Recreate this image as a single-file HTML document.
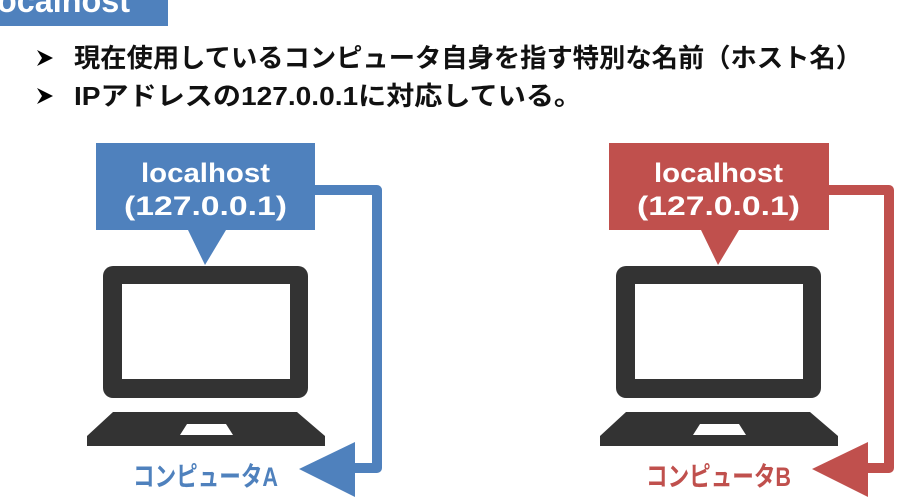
<!DOCTYPE html>
<html><head><meta charset="utf-8"><style>
html,body{margin:0;padding:0;background:#fff;}
svg{display:block;}
text{font-family:"Liberation Sans","Noto Sans CJK JP",sans-serif;font-weight:bold;}
</style></head><body>
<svg width="921" height="504" viewBox="0 0 921 504" xmlns="http://www.w3.org/2000/svg">
<rect x="0" y="0" width="168" height="26" fill="#4f81bd"/>
<text x="-12" y="12" font-size="33" fill="#fff" textLength="142" lengthAdjust="spacingAndGlyphs">localhost</text>

<polygon points="37,50 53,58 37,66 42,58" fill="#000"/>
<text x="74" y="67" font-size="26" fill="#111" textLength="788" lengthAdjust="spacingAndGlyphs">現在使用しているコンピュータ自身を指す特別な名前（ホスト名）</text>
<polygon points="37,88 53,96 37,104 42,96" fill="#000"/>
<text x="74" y="105" font-size="26" fill="#111" textLength="508" lengthAdjust="spacingAndGlyphs">IPアドレスの127.0.0.1に対応している。</text>

<g>
<rect x="96" y="143" width="219" height="87" fill="#4f81bd"/>
<polygon points="188,230 226,230 205,265" fill="#4f81bd"/>
<text x="141" y="182" font-size="27" fill="#fff" textLength="129" lengthAdjust="spacingAndGlyphs">localhost</text>
<text x="124" y="215" font-size="27" fill="#fff" textLength="163" lengthAdjust="spacingAndGlyphs">(127.0.0.1)</text>
<path d="M315 190 H377 V468 H350" fill="none" stroke="#4f81bd" stroke-width="10" stroke-linejoin="round"/>
<polygon points="299,469 355,442 355,497" fill="#4f81bd"/>
<rect x="103" y="266" width="205" height="132" rx="10" fill="#333"/>
<rect x="122" y="284" width="168" height="95" fill="#fff"/>
<path d="M113 412 H297 L325 436 V446 H87 V436 Z" fill="#333"/>
<polygon points="187,424 226,424 233,435 180,435" fill="#fff"/>
<text x="133" y="486" font-size="27" fill="#4f81bd" textLength="145" lengthAdjust="spacingAndGlyphs">コンピュータA</text>
</g>

<g>
<rect x="609" y="143" width="220" height="87" fill="#c0504d"/>
<polygon points="701,230 739,230 718,265" fill="#c0504d"/>
<text x="654" y="182" font-size="27" fill="#fff" textLength="129" lengthAdjust="spacingAndGlyphs">localhost</text>
<text x="637" y="215" font-size="27" fill="#fff" textLength="163" lengthAdjust="spacingAndGlyphs">(127.0.0.1)</text>
<path d="M828 190 H889 V468 H863" fill="none" stroke="#c0504d" stroke-width="10" stroke-linejoin="round"/>
<polygon points="812,469 868,442 868,497" fill="#c0504d"/>
<rect x="616" y="266" width="205" height="132" rx="10" fill="#333"/>
<rect x="635" y="284" width="168" height="95" fill="#fff"/>
<path d="M626 412 H810 L838 436 V446 H600 V436 Z" fill="#333"/>
<polygon points="700,424 739,424 746,435 693,435" fill="#fff"/>
<text x="646" y="486" font-size="27" fill="#c0504d" textLength="145" lengthAdjust="spacingAndGlyphs">コンピュータB</text>
</g>
</svg>
</body></html>
